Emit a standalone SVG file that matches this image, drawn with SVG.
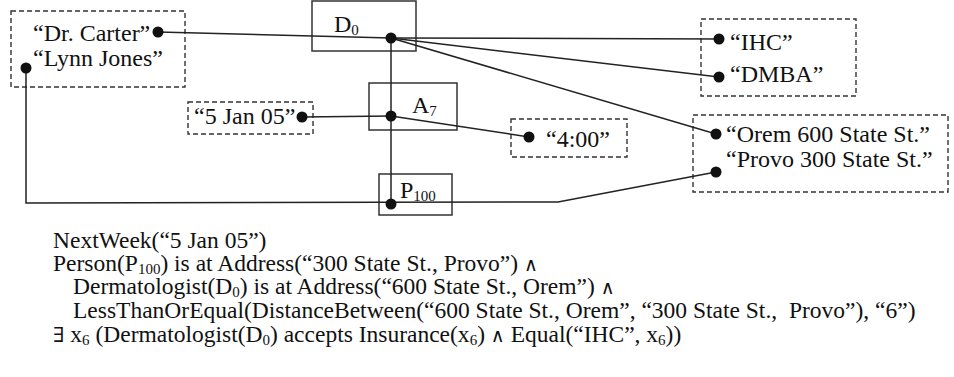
<svg xmlns="http://www.w3.org/2000/svg" width="954" height="377" viewBox="0 0 954 377">
<style>
text{font-family:"Liberation Serif","Times New Roman",serif;font-size:24px;fill:#111}
.f{font-size:23.5px}
.sub{font-size:15px}
.op{font-size:19px;font-family:"DejaVu Serif",serif}
.ex{font-size:21px;font-family:"DejaVu Serif",serif}
.obj{fill:#fff;stroke:#333;stroke-width:1.5}
.val{fill:none;stroke:#333;stroke-width:1.4;stroke-dasharray:5,3}
.ln{fill:none;stroke:#222;stroke-width:1.5}
.dot{fill:#111}
</style>
<rect width="954" height="377" fill="#fff"/>
<g id="nodes">
<g id="D0"><rect class="obj" x="312" y="1" width="104" height="50"/><text x="334" y="32">D<tspan class="sub" dy="3">0</tspan></text></g>
<g id="A7"><rect class="obj" x="369" y="83" width="88" height="47"/><text x="412" y="113">A<tspan class="sub" dy="3">7</tspan></text></g>
<g id="P100"><rect class="obj" x="379" y="174" width="73" height="41"/><text x="400" y="198">P<tspan class="sub" dy="3">100</tspan></text></g>
<g id="names"><rect class="val" x="11" y="11" width="174" height="76"/><text x="33" y="41">“Dr. Carter”</text><text x="33" y="66">“Lynn Jones”</text></g>
<g id="insurance"><rect class="val" x="701" y="19" width="155" height="77"/><text x="730" y="50">“IHC”</text><text x="730" y="82">“DMBA”</text></g>
<g id="date"><rect class="val" x="188" y="102" width="125" height="32"/><text x="194" y="124">“5 Jan 05”</text></g>
<g id="time"><rect class="val" x="511" y="119" width="116" height="38"/><text x="546" y="147">“4:00”</text></g>
<g id="addresses"><rect class="val" x="693" y="115" width="255" height="77"/><text x="726" y="142">“Orem 600 State St.”</text><text x="726" y="167">“Provo 300 State St.”</text></g>
</g>
<g id="connectors">
<line class="ln" x1="158" y1="32" x2="391" y2="38"/>
<line class="ln" x1="391" y1="38" x2="719" y2="39"/>
<line class="ln" x1="391" y1="38" x2="719" y2="77"/>
<line class="ln" x1="391" y1="38" x2="716" y2="134"/>
<line class="ln" x1="391" y1="38" x2="391" y2="204"/>
<line class="ln" x1="302" y1="117" x2="391" y2="116"/>
<line class="ln" x1="391" y1="116" x2="529" y2="137"/>
<polyline class="ln" points="26,68 26,203 558,202 716,172"/>
<circle class="dot" cx="158" cy="32" r="5.5"/>
<circle class="dot" cx="26" cy="68" r="5.5"/>
<circle class="dot" cx="391" cy="38" r="5.5"/>
<circle class="dot" cx="391" cy="116" r="5.5"/>
<circle class="dot" cx="391" cy="204" r="5.5"/>
<circle class="dot" cx="302" cy="117" r="5.5"/>
<circle class="dot" cx="529" cy="137" r="5.5"/>
<circle class="dot" cx="719" cy="39" r="5.5"/>
<circle class="dot" cx="719" cy="77" r="5.5"/>
<circle class="dot" cx="716" cy="134" r="5.5"/>
<circle class="dot" cx="716" cy="172" r="5.5"/>
</g>
<g id="formula">
<text class="f" x="53" y="248">NextWeek(“5 Jan 05”)</text>
<text class="f" x="53" y="271">Person(P<tspan class="sub" dy="3">100</tspan><tspan dy="-3">) is at Address(“300 State St., Provo”) </tspan><tspan class="op">∧</tspan></text>
<text class="f" x="73" y="294">Dermatologist(D<tspan class="sub" dy="3">0</tspan><tspan dy="-3">) is at Address(“600 State St., Orem”) </tspan><tspan class="op">∧</tspan></text>
<text class="f" x="73" y="318" xml:space="preserve">LessThanOrEqual(DistanceBetween(“600 State St., Orem”, “300 State St.,  Provo”), “6”)</text>
<text class="f" x="53" y="342"><tspan class="ex">∃</tspan> x<tspan class="sub" dy="3">6</tspan><tspan dy="-3"> (Dermatologist(D</tspan><tspan class="sub" dy="3">0</tspan><tspan dy="-3">) accepts Insurance(x</tspan><tspan class="sub" dy="3">6</tspan><tspan dy="-3">) </tspan><tspan class="op">∧</tspan> Equal(“IHC”, x<tspan class="sub" dy="3">6</tspan><tspan dy="-3">))</tspan></text>
</g>
</svg>
